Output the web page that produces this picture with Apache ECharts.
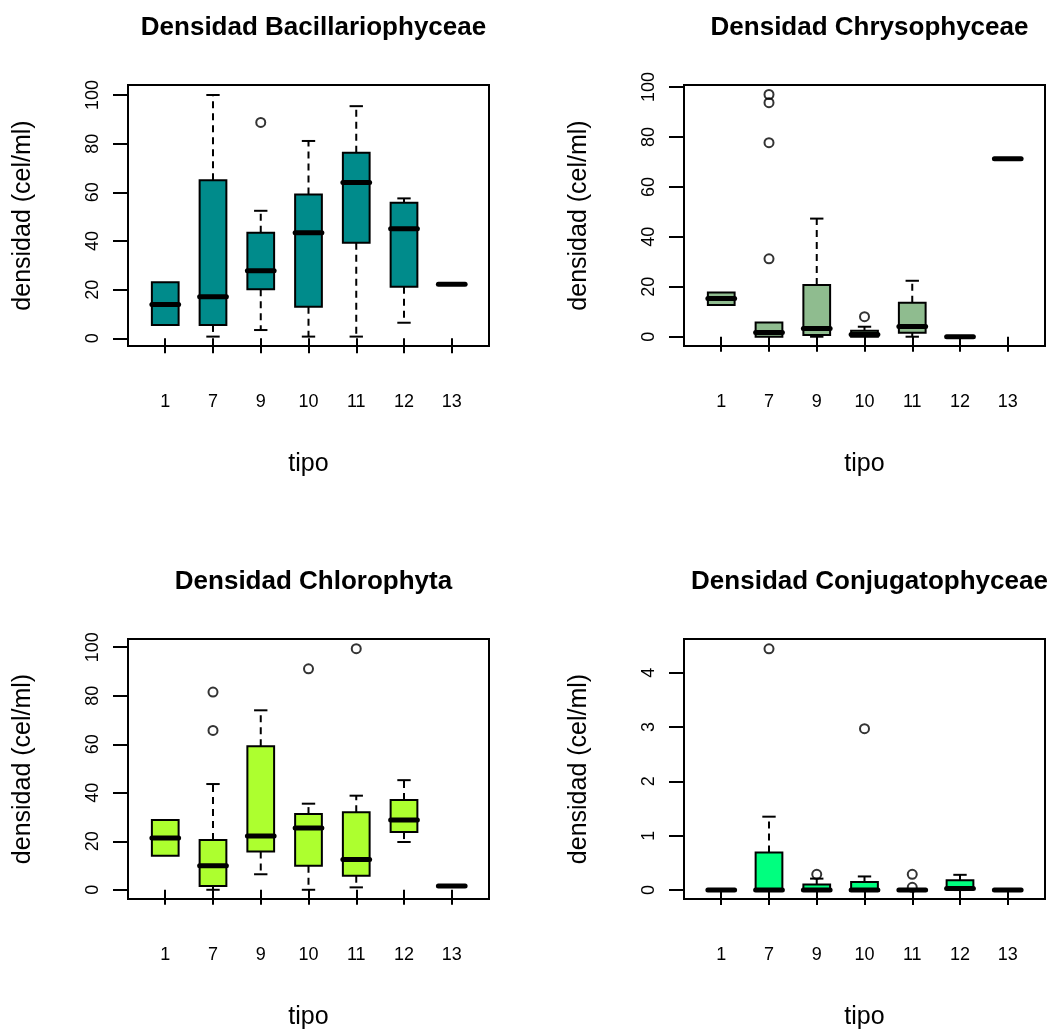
<!DOCTYPE html>
<html>
<head>
<meta charset="utf-8">
<script src="https://cdn.jsdelivr.net/npm/echarts@6/dist/echarts.min.js"></script>
<style>
html,body{margin:0;padding:0;background:#fff;}
#chart{width:1048px;height:1031px;}
</style>
</head>
<body>
<div id="chart"></div>
<script>
// ---- data ----
const categories = ['1', '7', '9', '10', '11', '12', '13'];
const panelTitles = ['Densidad Bacillariophyceae', 'Densidad Chrysophyceae', 'Densidad Chlorophyta', 'Densidad Conjugatophyceae'];

// each row: [min, q1, median, q3, max] per category
const bacStats = [
  [5.5, 5.5, 13.9, 23.0, 23.0],
  [0.7, 5.5, 17.1, 65.0, 100.0],
  [3.4, 20.2, 27.8, 43.4, 52.4],
  [0.7, 13.0, 43.4, 59.1, 81.1],
  [0.7, 39.3, 64.0, 76.3, 95.4],
  [6.4, 21.2, 45.0, 55.7, 57.5],
  [22.2, 22.2, 22.2, 22.2, 22.2]
];
const bacOutliers = [[3, 88.7]];

const chrStats = [
  [12.7, 12.7, 15.3, 17.7, 17.7],
  [0, 0, 1.7, 5.7, 5.7],
  [0, 0.7, 3.3, 20.7, 47.3],
  [0, 0, 0.9, 2.4, 4.0],
  [0, 1.6, 4.1, 13.6, 22.4],
  [0, 0, 0, 0, 0],
  [71.3, 71.3, 71.3, 71.3, 71.3]
];
const chrOutliers = [[2, 97.0], [2, 93.7], [2, 77.7], [2, 31.2], [4, 8.0]];

const chlStats = [
  [14.0, 14.0, 21.4, 28.8, 28.8],
  [0, 1.6, 9.9, 20.5, 43.6],
  [6.4, 15.8, 22.2, 59.2, 74.0],
  [0, 9.9, 25.5, 31.2, 35.5],
  [1.0, 5.8, 12.5, 32.0, 38.8],
  [19.7, 23.8, 28.8, 37.0, 45.2],
  [1.6, 1.6, 1.6, 1.6, 1.6]
];
const chlOutliers = [[2, 81.5], [2, 65.7], [4, 91.1], [5, 99.4]];

const conStats = [
  [0, 0, 0, 0, 0],
  [0, 0, 0, 0.69, 1.35],
  [0, 0, 0, 0.10, 0.21],
  [0, 0, 0, 0.15, 0.25],
  [0, 0, 0, 0, 0],
  [0, 0.02, 0.03, 0.18, 0.28],
  [0, 0, 0, 0, 0]
];
const conOutliers = [[2, 4.44], [3, 0.29], [4, 2.97], [5, 0.29], [5, 0.05]];

const yTicks = [
  [0, 20, 40, 60, 80, 100],
  [0, 20, 40, 60, 80, 100],
  [0, 20, 40, 60, 80, 100],
  [0, 1, 2, 3, 4]
];
const yLimits = [[-3.16, 104.1], [-3.72, 100.8], [-3.8, 103.4], [-0.165, 4.62]];
const boxColors = ['#008B8B', '#8FBC8F', '#ADFF2F', '#00FF7F'];

const allStats = [bacStats, chrStats, chlStats, conStats];
const allOutliers = [bacOutliers, chrOutliers, chlOutliers, conOutliers];

// ---- layout ----
const FONT = "'Liberation Sans', Arial, Helvetica, sans-serif";
const gridPos = [
  {left: 128, top: 85},
  {left: 684, top: 85},
  {left: 128, top: 639},
  {left: 684, top: 639}
];
const GW = 361, GH = 261;
const catPos = categories.map((c, i) => i + 1);

const chart = echarts.init(document.getElementById('chart'), null, {renderer: 'canvas'});

function makeRender(color) {
  return function (params, api) {
    const x = api.value(0);
    const mn = api.value(1), q1 = api.value(2), md = api.value(3), q3 = api.value(4), mx = api.value(5);
    const bw = api.size([0.56, 0])[0];
    const pMin = api.coord([x, mn]);
    const pQ1 = api.coord([x, q1]);
    const pMd = api.coord([x, md]);
    const pQ3 = api.coord([x, q3]);
    const pMax = api.coord([x, mx]);
    const cx = pMd[0];
    const dash = {stroke: '#000', lineWidth: 2, lineDash: [7, 5]};
    const solid = {stroke: '#000', lineWidth: 2};
    const children = [];
    if (mn < q1) {
      children.push({type: 'line', shape: {x1: cx, y1: pQ1[1], x2: cx, y2: pMin[1]}, style: dash});
      children.push({type: 'line', shape: {x1: cx - bw / 4, y1: pMin[1], x2: cx + bw / 4, y2: pMin[1]}, style: solid});
    }
    if (mx > q3) {
      children.push({type: 'line', shape: {x1: cx, y1: pQ3[1], x2: cx, y2: pMax[1]}, style: dash});
      children.push({type: 'line', shape: {x1: cx - bw / 4, y1: pMax[1], x2: cx + bw / 4, y2: pMax[1]}, style: solid});
    }
    children.push({type: 'rect', shape: {x: cx - bw / 2, y: pQ3[1], width: bw, height: pQ1[1] - pQ3[1]},
      style: {fill: color, stroke: '#000', lineWidth: 2}});
    children.push({type: 'line', shape: {x1: cx - bw / 2, y1: pMd[1], x2: cx + bw / 2, y2: pMd[1]},
      style: {stroke: '#000', lineWidth: 5, lineCap: 'round'}});
    return {type: 'group', children: children};
  };
}

const grids = [], xAxes = [], yAxes = [], series = [], titles = [];
for (let p = 0; p < 4; p++) {
  grids.push({left: gridPos[p].left, top: gridPos[p].top, width: GW, height: GH,
    show: true, borderColor: '#000', borderWidth: 2, backgroundColor: 'transparent'});
  titles.push({text: panelTitles[p], left: gridPos[p].left + GW / 2, top: gridPos[p].top - 75, textAlign: 'center',
    textStyle: {fontFamily: FONT, fontSize: 26, fontWeight: 'bold', color: '#000'}});
  xAxes.push({
    gridIndex: p, type: 'value', min: 0.22, max: 7.78,
    axisLine: {show: false}, splitLine: {show: false},
    axisTick: {show: true, inside: false, length: 15, customValues: catPos, lineStyle: {color: '#000', width: 2}},
    axisLabel: {customValues: catPos, formatter: v => categories[Math.round(v) - 1], margin: 47,
      fontSize: 18, color: '#000', fontFamily: FONT},
    name: 'tipo', nameLocation: 'middle', nameGap: 106,
    nameTextStyle: {fontSize: 25, color: '#000', fontFamily: FONT}
  });
  yAxes.push({
    gridIndex: p, type: 'value', min: yLimits[p][0], max: yLimits[p][1],
    axisLine: {show: false}, splitLine: {show: false},
    axisTick: {show: true, inside: false, length: 15, customValues: yTicks[p], lineStyle: {color: '#000', width: 2}},
    axisLabel: {customValues: yTicks[p], rotate: 90, margin: 26, fontSize: 18, color: '#000', fontFamily: FONT,
      formatter: v => String(v)},
    name: 'densidad (cel/ml)', nameLocation: 'middle', nameGap: 92,
    nameTextStyle: {fontSize: 25, color: '#000', fontFamily: FONT}
  });
  series.push({
    type: 'scatter', xAxisIndex: p, yAxisIndex: p,
    data: allOutliers[p],
    symbol: 'circle', symbolSize: 9,
    itemStyle: {color: 'rgba(255,255,255,0)', borderColor: '#000', borderWidth: 2},
    silent: true
  });
  series.push({
    type: 'custom', xAxisIndex: p, yAxisIndex: p,
    renderItem: makeRender(boxColors[p]),
    encode: {x: 0, y: [1, 2, 3, 4, 5]},
    data: allStats[p].map((s, i) => [catPos[i]].concat(s)),
    silent: true
  });
}

chart.setOption({
  animation: false,
  backgroundColor: '#fff',
  title: titles,
  grid: grids,
  xAxis: xAxes,
  yAxis: yAxes,
  series: series
});
</script>
</body>
</html>
